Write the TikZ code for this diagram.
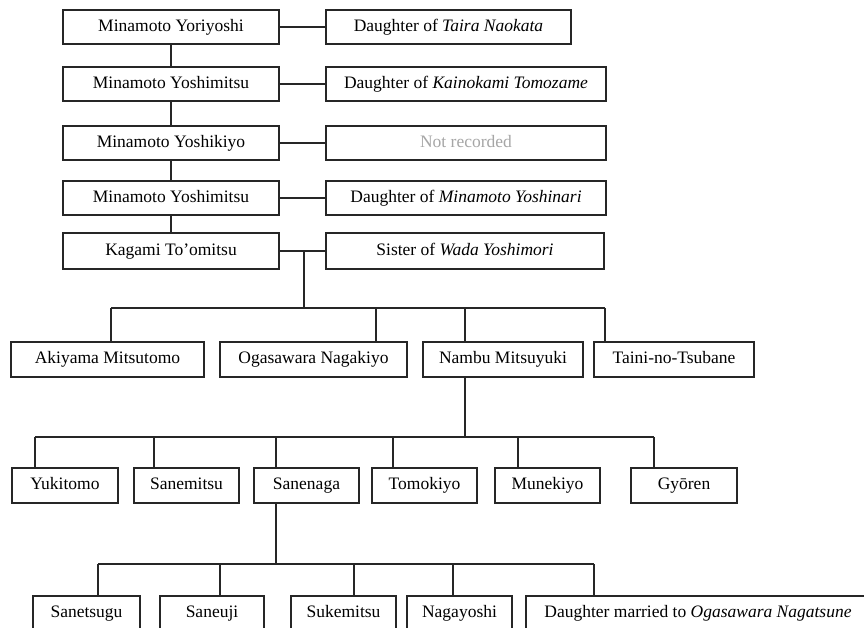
\documentclass[tikz,border=0pt]{standalone}
\usepackage{fontspec}
\setmainfont{Liberation Serif}
\usetikzlibrary{positioning, calc}

\begin{document}
\begin{tikzpicture}[
    x=1pt, y=-1pt,
    person/.style={draw=black!85, line width=1.4pt, minimum height=34pt, fill=white, inner sep=0pt, outer sep=0pt, text height=11.5pt, text depth=3.5pt, font=\fontsize{17.5}{20}\selectfont},
    heir/.style={person, minimum width=216pt},
    spouse/.style={person, minimum width=280pt},
    kid/.style={person, minimum height=35pt, minimum width=105pt},
    link/.style={draw=black!85, line width=1.3pt},
    ]

    \useasboundingbox (0,0) rectangle (864,627);
    \clip (0,0) rectangle (864,627);

    % Main line
    \node (Y1) [heir] at (171,27) {Minamoto Yoriyoshi};
    \node (Y2) [heir, below=23pt of Y1] {Minamoto Yoshimitsu};
    \node (Y3) [heir, below=25pt of Y2] {Minamoto Yoshikiyo};
    \node (Y4) [heir, below=21pt of Y3] {Minamoto Yoshimitsu};
    \node (K) [heir, minimum height=36pt, below=18pt of Y4] {Kagami To’omitsu};

    % Wives
    \node (W1) [spouse, minimum width=245pt, right=47pt of Y1] {Daughter of \textit{Taira Naokata}};
    \node (W2) [spouse, right=47pt of Y2] {Daughter of \textit{Kainokami Tomozame}};
    \node (W3) [spouse, right=47pt of Y3, text=black!35] {Not recorded};
    \node (W4) [spouse, right=47pt of Y4] {Daughter of \textit{Minamoto Yoshinari}};
    \node (W5) [spouse, minimum width=278pt, minimum height=36pt, right=47pt of K] {Sister of \textit{Wada Yoshimori}};

    \draw[link] (Y1) -- (W1);
    \draw[link] (Y2) -- (W2);
    \draw[link] (Y3) -- (W3);
    \draw[link] (Y4) -- (W4);
    \draw[link] (K) -- (W5);

    \draw[link] (Y1) -- (Y2);
    \draw[link] (Y2) -- (Y3);
    \draw[link] (Y3) -- (Y4);
    \draw[link] (Y4) -- (K);

    % Children of Kagami
    \node (C1) [kid, minimum width=193pt] at (107.5,359.5) {Akiyama Mitsutomo};
    \node (C2) [kid, minimum width=187pt] at (313.5,359.5) {Ogasawara Nagakiyo};
    \node (C3) [kid, minimum width=160pt] at (503,359.5) {Nambu Mitsuyuki};
    \node (C4) [kid, minimum width=160pt] at (674,359.5) {Taini-no-Tsubane};

    \coordinate (KJ) at (K.east -| 304,0);
    \coordinate (B1L) at (111,308);
    \coordinate (B1R) at (605,308);
    \draw[link] (KJ) -- (KJ |- B1L);
    \draw[link] (B1L) -- (B1R);
    \draw[link] (B1L) -- (B1L |- C1.north);
    \draw[link] (B1L -| 376,0) -- (C2.north -| 376,0);
    \draw[link] (B1L -| 465,0) -- (C3.north -| 465,0);
    \draw[link] (B1R) -- (B1R |- C4.north);

    % Children of Nambu
    \node (G1) [kid, minimum width=106pt] at (65,485.5) {Yukitomo};
    \node (G2) [kid] at (186.5,485.5) {Sanemitsu};
    \node (G3) [kid] at (306.5,485.5) {Sanenaga};
    \node (G4) [kid] at (424.5,485.5) {Tomokiyo};
    \node (G5) [kid] at (547.5,485.5) {Munekiyo};
    \node (G6) [kid, minimum width=106pt] at (684,485.5) {Gyōren};

    \coordinate (B2L) at (35,437);
    \coordinate (B2R) at (654,437);
    \draw[link] (C3.south -| 465,0) -- (B2L -| 465,0);
    \draw[link] (B2L) -- (B2R);
    \draw[link] (B2L) -- (B2L |- G1.north);
    \draw[link] (B2L -| 154,0) -- (G2.north -| 154,0);
    \draw[link] (B2L -| 276,0) -- (G3.north -| 276,0);
    \draw[link] (B2L -| 393,0) -- (G4.north -| 393,0);
    \draw[link] (B2L -| 518,0) -- (G5.north -| 518,0);
    \draw[link] (B2R) -- (B2R |- G6.north);

    % Children of Sanenaga
    \node (S1) [kid, minimum width=107pt] at (86.5,613.5) {Sanetsugu};
    \node (S2) [kid, minimum width=104pt] at (212,613.5) {Saneuji};
    \node (S3) [kid] at (343.5,613.5) {Sukemitsu};
    \node (S4) [kid] at (459.5,613.5) {Nagayoshi};
    \node (S5) [kid, minimum width=344pt] at (698,613.5) {Daughter married to \textit{Ogasawara Nagatsune}};

    \coordinate (B3L) at (98,564);
    \coordinate (B3R) at (594,564);
    \draw[link] (G3.south -| 276,0) -- (B3L -| 276,0);
    \draw[link] (B3L) -- (B3R);
    \draw[link] (B3L) -- (B3L |- S1.north);
    \draw[link] (B3L -| 220,0) -- (S2.north -| 220,0);
    \draw[link] (B3L -| 354,0) -- (S3.north -| 354,0);
    \draw[link] (B3L -| 453,0) -- (S4.north -| 453,0);
    \draw[link] (B3R) -- (B3R |- S5.north);
\end{tikzpicture}
\end{document}
